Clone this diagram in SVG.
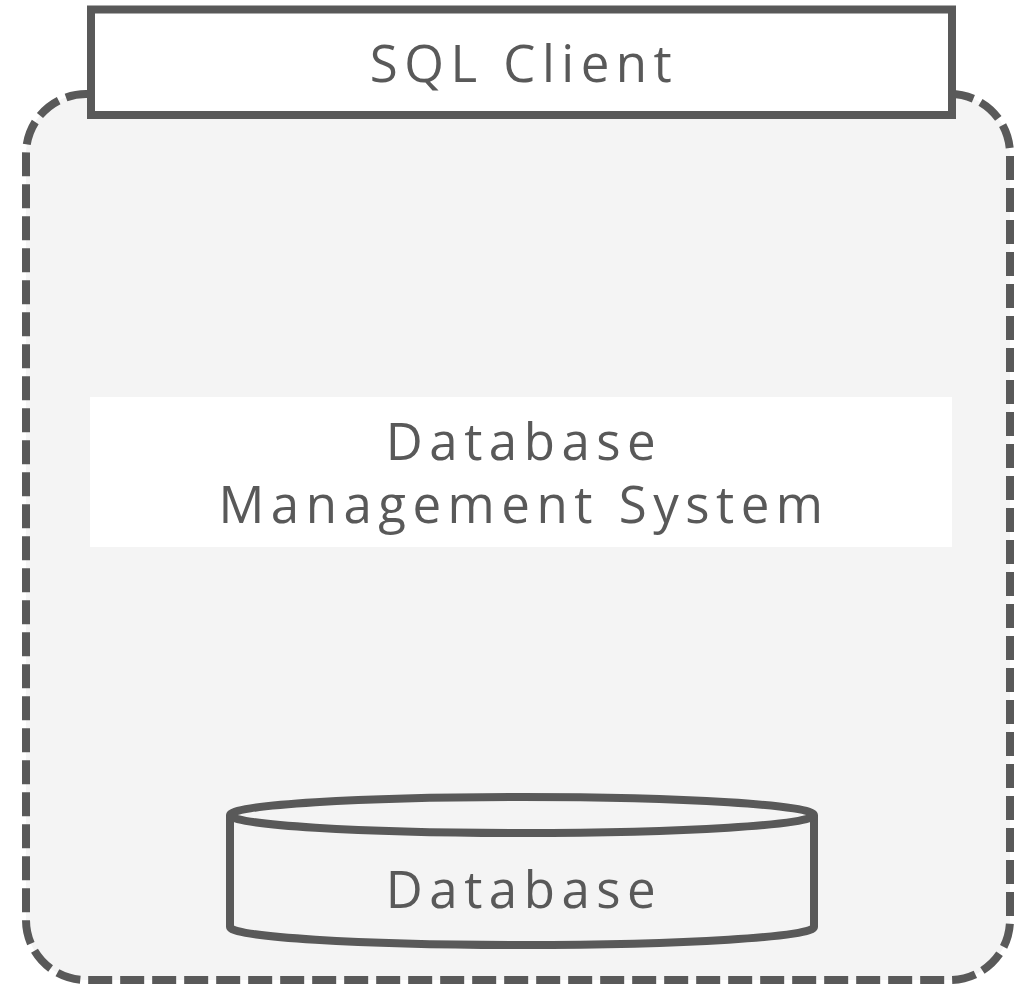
<svg xmlns="http://www.w3.org/2000/svg" width="1027" height="984" viewBox="0 0 1027 984">
  <style>
    .lbl { font-family: "Open Sans", "Liberation Sans", sans-serif; font-size: 51px; fill: #595959; letter-spacing: 6.5px; text-anchor: middle; }
    .edge { stroke: #595959; stroke-width: 8; }
  </style>
  <rect width="1027" height="984" fill="#ffffff"/>
  <g id="dbms">
    <rect x="26" y="94" width="984" height="886" rx="60" ry="60" fill="#f4f4f4" class="edge" stroke-dasharray="24 8"/>
    <rect x="90" y="397" width="862" height="150" fill="#ffffff"/>
    <text class="lbl" x="524" y="460">Database</text>
    <text class="lbl" x="524" y="523">Management System</text>
  </g>
  <g id="sql-client">
    <rect x="91" y="9.5" width="861" height="105.5" fill="#ffffff" class="edge"/>
    <text class="lbl" x="524" y="82">SQL Client</text>
  </g>
  <g id="database">
    <path d="M230 815 L230 927 A292 18 0 0 0 814 927 L814 815" fill="#f4f4f4" class="edge" stroke-linejoin="round"/>
    <ellipse cx="522" cy="815" rx="292" ry="18" fill="#f4f4f4" class="edge"/>
    <text class="lbl" x="524" y="908">Database</text>
  </g>
  <g id="connectors"/>
</svg>
